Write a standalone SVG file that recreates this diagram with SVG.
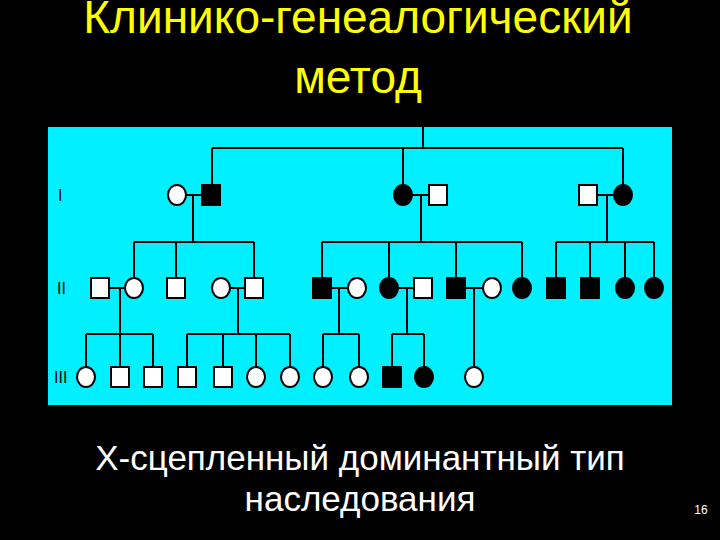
<svg xmlns="http://www.w3.org/2000/svg" width="720" height="540" viewBox="0 0 720 540">
<style>
.t{fill:#fff;font-family:"Liberation Sans",Arial,sans-serif;text-anchor:middle}
.y{fill:#ffff00}
.l{stroke:#000;stroke-width:2;fill:none}
.w{fill:#fff;stroke:#000;stroke-width:2}
.b{fill:#000;stroke:#000;stroke-width:2}
.g{font-family:"Liberation Sans",Arial,sans-serif;font-size:16px;fill:#000}
</style>
<defs>
<rect id="sq" x="-9" y="-10" width="18" height="20"/>
<ellipse id="ci" rx="9" ry="10"/>
</defs>
<rect width="720" height="540" fill="#000"/>
<text class="t y" x="358" y="33" font-size="46">Клинико-генеалогический</text>
<text class="t y" x="358" y="93" font-size="46">метод</text>
<rect x="48" y="127" width="624" height="278" fill="#00f0ff"/>
<text class="g" x="58" y="201">I</text>
<text class="g" x="57" y="294">II</text>
<text class="g" x="54" y="383">III</text>
<g id="connectors" class="l">
<path d="M423 127V148M212 148H623M212 148V186M403 148V186M623 148V186"/>
<path d="M186 195H202M412 195H429M597 195H614"/>
<path d="M193 195V242M134 242H254M134 242V278M176 242V278M254 242V278"/>
<path d="M421 195V242M322 242H522M322 242V278M389 242V278M456 242V278M522 242V278"/>
<path d="M607 195V242M556 242H654M556 242V278M590 242V278M625 242V278M654 242V278"/>
<path d="M109 288H125M230 288H245M331 288H348M398 288H414M465 288H483"/>
<path d="M120 288V334M86 334H153M86 334V367M120 334V367M153 334V367"/>
<path d="M238 288V334M187 334H290M187 334V367M223 334V367M256 334V367M290 334V367"/>
<path d="M339 288V334M323 334H359M323 334V367M359 334V367"/>
<path d="M407 288V334M392 334H424M392 334V367M424 334V367"/>
<path d="M474 288V367"/>
</g>
<g id="I-1"><use href="#ci" class="w" x="177" y="195"/></g>
<g id="I-2"><use href="#sq" class="b" x="211" y="195"/></g>
<g id="I-3"><use href="#ci" class="b" x="403" y="195"/></g>
<g id="I-4"><use href="#sq" class="w" x="438" y="195"/></g>
<g id="I-5"><use href="#sq" class="w" x="588" y="195"/></g>
<g id="I-6"><use href="#ci" class="b" x="623" y="195"/></g>
<g id="II-1"><use href="#sq" class="w" x="100" y="288"/></g>
<g id="II-2"><use href="#ci" class="w" x="134" y="288"/></g>
<g id="II-3"><use href="#sq" class="w" x="176" y="288"/></g>
<g id="II-4"><use href="#ci" class="w" x="221" y="288"/></g>
<g id="II-5"><use href="#sq" class="w" x="254" y="288"/></g>
<g id="II-6"><use href="#sq" class="b" x="322" y="288"/></g>
<g id="II-7"><use href="#ci" class="w" x="357" y="288"/></g>
<g id="II-8"><use href="#ci" class="b" x="389" y="288"/></g>
<g id="II-9"><use href="#sq" class="w" x="423" y="288"/></g>
<g id="II-10"><use href="#sq" class="b" x="456" y="288"/></g>
<g id="II-11"><use href="#ci" class="w" x="492" y="288"/></g>
<g id="II-12"><use href="#ci" class="b" x="522" y="288"/></g>
<g id="II-13"><use href="#sq" class="b" x="556" y="288"/></g>
<g id="II-14"><use href="#sq" class="b" x="590" y="288"/></g>
<g id="II-15"><use href="#ci" class="b" x="625" y="288"/></g>
<g id="II-16"><use href="#ci" class="b" x="654" y="288"/></g>
<g id="III-1"><use href="#ci" class="w" x="86" y="377"/></g>
<g id="III-2"><use href="#sq" class="w" x="120" y="377"/></g>
<g id="III-3"><use href="#sq" class="w" x="153" y="377"/></g>
<g id="III-4"><use href="#sq" class="w" x="187" y="377"/></g>
<g id="III-5"><use href="#sq" class="w" x="223" y="377"/></g>
<g id="III-6"><use href="#ci" class="w" x="256" y="377"/></g>
<g id="III-7"><use href="#ci" class="w" x="290" y="377"/></g>
<g id="III-8"><use href="#ci" class="w" x="323" y="377"/></g>
<g id="III-9"><use href="#ci" class="w" x="359" y="377"/></g>
<g id="III-10"><use href="#sq" class="b" x="392" y="377"/></g>
<g id="III-11"><use href="#ci" class="b" x="424" y="377"/></g>
<g id="III-12"><use href="#ci" class="w" x="474" y="377"/></g>
<text class="t" x="360" y="470" font-size="35">X-сцепленный доминантный тип</text>
<text class="t" x="360" y="511" font-size="35">наследования</text>
<text class="t" x="701" y="514" font-size="12">16</text>
</svg>
